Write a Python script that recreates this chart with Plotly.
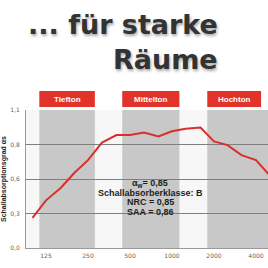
import numpy as np
import plotly.graph_objects as go

# data
freqs = [100, 125, 160, 200, 250, 315, 400, 500, 630, 800, 1000, 1250, 1600, 2000, 2500, 3150, 4000, 5000]
alpha = [0.24, 0.38, 0.48, 0.60, 0.70, 0.84, 0.90, 0.90, 0.92, 0.89, 0.93, 0.95, 0.96, 0.85, 0.82, 0.74, 0.70, 0.58]
tick_freqs = [125, 250, 500, 1000, 2000, 4000]
tick_labels = ["125", "250", "500", "1000", "2000", "4000"]
y_tickvals = [0.0, 0.275, 0.55, 0.825, 1.1]
y_ticktext = ["0,0", "0,3", "0,6", "0,8", "1,1"]
band_names = ["Tiefton", "Mittelton", "Hochton"]
band_lo = [112, 440, 1790]
band_hi = [280, 1130, 6000]
label_hi = [280, 1130, 4350]
info_lines = ["α<sub>w</sub>= 0,85", "Schallabsorberklasse: B", "NRC = 0,85", "SAA = 0,86"]

REF = 125.0
def oct_(f):
    return np.log2(np.asarray(f, dtype=float) / REF)

RED = "#e2332b"
fig = go.Figure()
fig.add_trace(go.Scatter(x=oct_(freqs), y=alpha, mode="lines",
                         line=dict(color="#d92f2b", width=2), hoverinfo="skip"))

shapes = []
annotations = []
for name, lo, hi, lh in zip(band_names, band_lo, band_hi, label_hi):
    shapes.append(dict(type="rect", xref="x", yref="paper", x0=float(oct_(lo)), x1=float(oct_(hi)),
                       y0=0, y1=1, fillcolor="#c8c8c8", line=dict(width=0), layer="below"))
    shapes.append(dict(type="rect", xref="x", yref="paper", x0=float(oct_(lo)), x1=float(oct_(lh)),
                       y0=1.0217, y1=1.1377, fillcolor=RED, line=dict(width=0), layer="above"))
    annotations.append(dict(x=float((oct_(lo) + oct_(lh)) / 2), y=1.0797, xref="x", yref="paper",
                            text="<b>%s</b>" % name, showarrow=False,
                            font=dict(family="Liberation Sans, Arial", size=8, color="white"),
                            xanchor="center", yanchor="middle"))

for i, line in enumerate(info_lines):
    ypx = 183 + i * 9.7
    annotations.append(dict(x=0.5124, y=1 + (110 - ypx) / 138, xref="paper", yref="paper",
                            text="<b>%s</b>" % line, showarrow=False,
                            font=dict(family="Liberation Sans, Arial", size=9, color="#1e1e1e"),
                            xanchor="center", yanchor="middle"))

title_font = dict(family="DejaVu Sans", size=27, color="#333333", weight="bold",
                  shadow="1px 2px 3px rgba(0,0,0,0.35)")
annotations.append(dict(x=(220 - 26) / 242, y=1 + (110 - 25) / 138, xref="paper", yref="paper",
                        text="... für starke", showarrow=False, font=title_font,
                        xanchor="right", yanchor="middle"))
annotations.append(dict(x=(220 - 26) / 242, y=1 + (110 - 60) / 138, xref="paper", yref="paper",
                        text="Räume", showarrow=False, font=title_font,
                        xanchor="right", yanchor="middle"))

fig.update_layout(
    width=268, height=268,
    margin=dict(l=26, r=0, t=110, b=20),
    paper_bgcolor="white", plot_bgcolor="#f7f7f7",
    showlegend=False,
    shapes=shapes, annotations=annotations,
    xaxis=dict(range=[-0.476, 5.286], tickvals=list(oct_(tick_freqs)), ticktext=tick_labels,
               showgrid=False, zeroline=False, showline=True, linecolor="#9a9a9a", linewidth=1,
               ticks="", tickfont=dict(family="DejaVu Sans", size=6, color="#666666"),
               ticklabelstandoff=2),
    yaxis=dict(range=[0, 1.1], tickvals=y_tickvals, ticktext=y_ticktext,
               showgrid=True, gridcolor="#7f7f7f", gridwidth=1, zeroline=False,
               showline=True, linecolor="#9a9a9a", linewidth=1, ticks="",
               tickfont=dict(family="DejaVu Sans", size=6, color="#666666"),
               ticklabelstandoff=4,
               title=dict(text="<b>Schallabsorptionsgrad αs</b>", standoff=2,
                          font=dict(family="Liberation Sans, Arial", size=7, color="#222222"))),
)

fig.write_html("out.html")
